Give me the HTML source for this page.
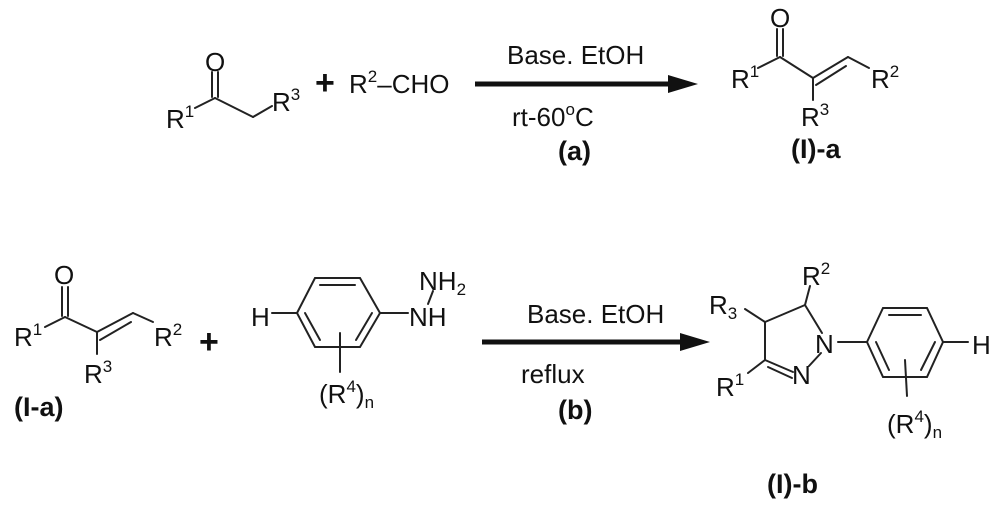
<!DOCTYPE html>
<html><head><meta charset="utf-8"><style>
html,body{margin:0;padding:0;background:#fff;}
svg{display:block;}
text{font-family:"Liberation Sans",Arial,sans-serif;font-size:26px;fill:#111;}
.b{font-weight:bold;font-size:27px;}
.s{font-size:17px;}
</style></head><body>
<svg width="1000" height="508" viewBox="0 0 1000 508" xmlns="http://www.w3.org/2000/svg">
<g stroke="#222" stroke-width="2" fill="none" stroke-linecap="round">
<line x1="195" y1="108" x2="215" y2="98"/>
<line x1="212" y1="97" x2="212" y2="72"/>
<line x1="218" y1="97" x2="218" y2="72"/>
<line x1="215" y1="98" x2="253" y2="117"/>
<line x1="253" y1="117" x2="272" y2="106"/>
<line x1="758" y1="68" x2="780" y2="57"/>
<line x1="777" y1="56" x2="777" y2="29"/>
<line x1="783" y1="56" x2="783" y2="29"/>
<line x1="780" y1="57" x2="813" y2="78"/>
<line x1="813" y1="78" x2="848" y2="57"/>
<line x1="816" y1="85" x2="846" y2="66"/>
<line x1="848" y1="57" x2="869" y2="68"/>
<line x1="813" y1="78" x2="813" y2="100"/>
<line x1="45" y1="327" x2="65" y2="317"/>
<line x1="62" y1="316" x2="62" y2="287"/>
<line x1="68" y1="316" x2="68" y2="287"/>
<line x1="65" y1="317" x2="97" y2="332"/>
<line x1="97" y1="332" x2="133" y2="313"/>
<line x1="100" y1="340" x2="131" y2="322"/>
<line x1="133" y1="313" x2="153" y2="322"/>
<line x1="97" y1="332" x2="97" y2="354"/>
<polygon points="315,278 360,278 380,313 360,347 315,347 297,313"/>
<line x1="320" y1="285" x2="355" y2="285"/>
<line x1="372" y1="313" x2="356" y2="340"/>
<line x1="305" y1="313" x2="320" y2="340"/>
<line x1="272" y1="313" x2="297" y2="313"/>
<line x1="380" y1="313" x2="408" y2="313"/>
<line x1="340" y1="333" x2="340" y2="372"/>
<line x1="428" y1="304" x2="433" y2="291"/>
<line x1="745" y1="309" x2="765" y2="322"/>
<line x1="765" y1="322" x2="805" y2="305"/>
<line x1="805" y1="305" x2="810" y2="286"/>
<line x1="765" y1="322" x2="765" y2="360"/>
<line x1="765" y1="360" x2="748" y2="373"/>
<line x1="765" y1="360" x2="793" y2="372"/>
<line x1="768" y1="367" x2="792" y2="378"/>
<line x1="809" y1="366" x2="821" y2="353"/>
<line x1="822" y1="333" x2="805" y2="305"/>
<line x1="838" y1="342" x2="867" y2="342"/>
<polygon points="867,342 883,308 927,308 943,342 927,377 883,377"/>
<line x1="889" y1="315" x2="921" y2="315"/>
<line x1="935" y1="342" x2="921" y2="370"/>
<line x1="876" y1="342" x2="889" y2="370"/>
<line x1="943" y1="342" x2="968" y2="342"/>
<line x1="905" y1="360" x2="907" y2="396"/>
</g>
<line x1="475" y1="84" x2="672" y2="84" stroke="#111" stroke-width="5"/>
<polygon points="668,75 698,84 668,93" fill="#111"/>
<line x1="482" y1="342" x2="684" y2="342" stroke="#111" stroke-width="5"/>
<polygon points="680,333 710,342 680,351" fill="#111"/>

<text x="166" y="128">R<tspan class="s" dy="-11">1</tspan></text>
<text x="205" y="71">O</text>
<text x="272" y="111">R<tspan class="s" dy="-11">3</tspan></text>
<text x="315" y="94" style="font-size:34px;font-weight:bold">+</text>
<text x="349" y="93">R<tspan class="s" dy="-11">2</tspan><tspan dy="11">–CHO</tspan></text>
<text x="507" y="64">Base. EtOH</text>
<text x="512" y="126">rt-60<tspan class="s" dy="-11">o</tspan><tspan dy="11">C</tspan></text>
<text x="558" y="160" class="b">(a)</text>
<text x="731" y="88">R<tspan class="s" dy="-11">1</tspan></text>
<text x="770" y="27">O</text>
<text x="871" y="88">R<tspan class="s" dy="-11">2</tspan></text>
<text x="801" y="126">R<tspan class="s" dy="-11">3</tspan></text>
<text x="791" y="158" class="b">(I)-a</text>

<text x="14" y="346">R<tspan class="s" dy="-11">1</tspan></text>
<text x="54" y="284">O</text>
<text x="154" y="346">R<tspan class="s" dy="-11">2</tspan></text>
<text x="84" y="383">R<tspan class="s" dy="-11">3</tspan></text>
<text x="199" y="353" style="font-size:34px;font-weight:bold">+</text>
<text x="14" y="416" class="b">(I-a)</text>
<text x="251" y="326">H</text>
<text x="409" y="326">NH</text>
<text x="419" y="290">NH<tspan class="s" dy="5">2</tspan></text>
<text x="319" y="403">(R<tspan class="s" dy="-11">4</tspan><tspan dy="11">)</tspan><tspan class="s" dy="5">n</tspan></text>
<text x="527" y="323">Base. EtOH</text>
<text x="521" y="383">reflux</text>
<text x="558" y="419" class="b">(b)</text>
<text x="802" y="285">R<tspan class="s" dy="-11">2</tspan></text>
<text x="709" y="314">R<tspan class="s" dy="5">3</tspan></text>
<text x="815" y="353">N</text>
<text x="792" y="384">N</text>
<text x="716" y="396">R<tspan class="s" dy="-11">1</tspan></text>
<text x="972" y="354">H</text>
<text x="887" y="433">(R<tspan class="s" dy="-11">4</tspan><tspan dy="11">)</tspan><tspan class="s" dy="5">n</tspan></text>
<text x="767" y="493" class="b">(I)-b</text>
</svg>
</body></html>
